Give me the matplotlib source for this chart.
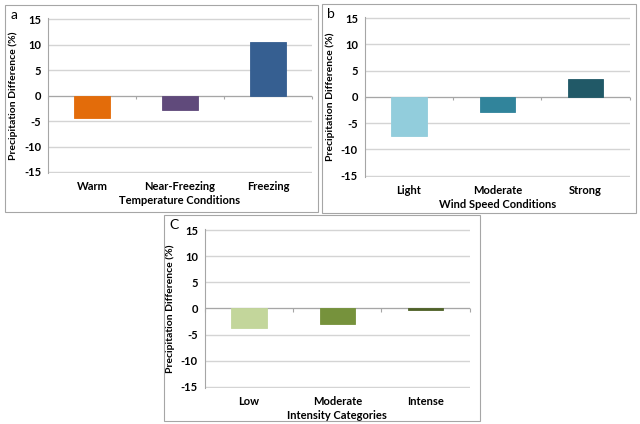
import numpy as np
import matplotlib
matplotlib.use("Agg")
import matplotlib.pyplot as plt
from matplotlib.patches import Rectangle

plt.rcParams["font.family"] = ["Lato", "DejaVu Sans"]

# ---- data ----
temp_cats = ["Warm", "Near-Freezing", "Freezing"]
temp_vals = [-4.4, -2.9, 10.6]
temp_cols = ["#E36C0A", "#604A7B", "#365F91"]

wind_cats = ["Light", "Moderate", "Strong"]
wind_vals = [-7.5, -2.8, 3.4]
wind_cols = ["#92CDDC", "#31849B", "#215967"]

int_cats = ["Low", "Moderate", "Intense"]
int_vals = [-3.8, -2.9, -0.3]
int_cols = ["#C3D69B", "#76923C", "#4F6228"]

yticks = [-15, -10, -5, 0, 5, 10, 15]

fig = plt.figure(figsize=(6.4, 4.24), dpi=100)


def panel(rect, box, letter, cats, vals, cols, xlabel):
    # outer frame around each panel
    fig.patches.append(Rectangle((box[0], box[1]), box[2], box[3], transform=fig.transFigure,
                                 fill=False, edgecolor="#a6a6a6", lw=0.8))
    fig.text(box[0] + 0.008, box[1] + box[3] - 0.010, letter, fontsize=10, va="top", ha="left")
    ax = fig.add_axes(rect)
    x = np.arange(len(cats))
    ax.bar(x, vals, width=0.4, color=cols, edgecolor=cols, lw=0.6, zorder=3)
    ax.set_ylim(-15.2, 15.2)
    ax.set_xlim(-0.5, len(cats) - 0.5)
    ax.set_yticks(yticks)
    ax.set_yticklabels([str(t) for t in yticks], fontsize=8, fontweight="bold")
    for t in yticks:
        ax.axhline(t, color="#d4d4d4", lw=1.0, zorder=0)
    ax.set_xticks(x)
    ax.set_xticklabels(cats, fontsize=8, fontweight="bold")
    ax.tick_params(axis="x", length=0, pad=6)
    ax.tick_params(axis="y", length=0, pad=5)
    for s in ["top", "right", "bottom"]:
        ax.spines[s].set_visible(False)
    ax.spines["left"].set_color("#a6a6a6")
    ax.spines["left"].set_linewidth(0.8)
    # category axis crossing at zero with tick marks between categories
    ax.axhline(0, color="#a6a6a6", lw=0.8, zorder=2)
    ax.vlines(np.arange(len(cats) + 1) - 0.5, -0.6, 0, color="#a6a6a6", lw=0.8, zorder=2,
              clip_on=False)
    ax.set_xlabel(xlabel, fontsize=8, fontweight="bold", labelpad=2)
    ax.set_ylabel("Precipitation Difference (%)", fontsize=7.5, fontweight="bold", labelpad=4)
    return ax


panel([0.075, 0.592, 0.4125, 0.365], [5 / 640, 1 - 212 / 424, 313 / 640, 207 / 424], "a",
      temp_cats, temp_vals, temp_cols, "Temperature Conditions")
panel([0.570, 0.583, 0.414, 0.377], [322 / 640, 1 - 213 / 424, 314 / 640, 209 / 424], "b",
      wind_cats, wind_vals, wind_cols, "Wind Speed Conditions")
panel([0.320, 0.085, 0.414, 0.375], [164 / 640, 1 - 421 / 424, 316 / 640, 206 / 424], "C",
      int_cats, int_vals, int_cols, "Intensity Categories")

fig.savefig("out.png", dpi=100)
